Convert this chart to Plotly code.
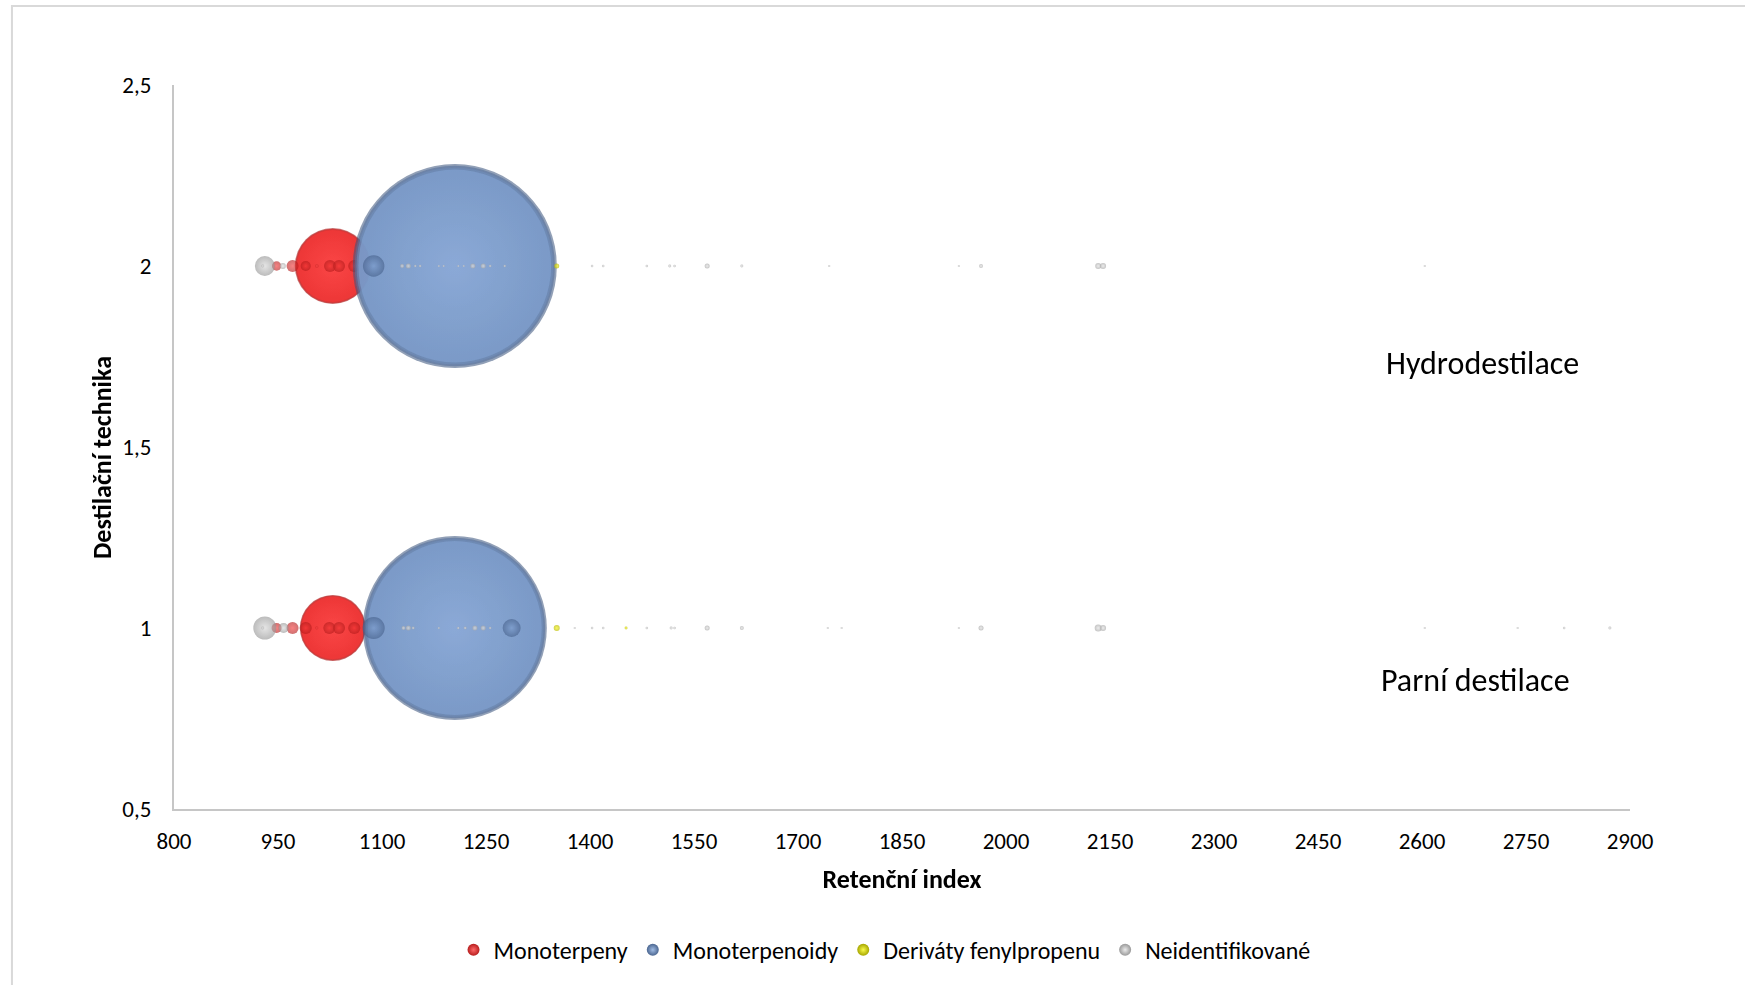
import plotly.graph_objects as go

# ---- data: retention index (x), technique (y: 1 = steam, 2 = hydro), relative amount (bubble area)
mono_x = [948, 971, 990, 1006, 1029, 1025, 1038, 1060,
          948, 971, 990, 1006, 1029, 1024, 1038, 1060]
mono_y = [2, 2, 2, 2, 2, 2, 2, 2,
          1, 1, 1, 1, 1, 1, 1, 1]
mono_s = [0.14, 0.23, 0.16, 0.02, 9.16, 0.23, 0.23, 0.23,
          0.16, 0.23, 0.23, 0.014, 6.9, 0.23, 0.23, 0.23]

terpenoid_x = [1088, 1205,
               1088, 1205, 1287]
terpenoid_y = [2, 2,
               1, 1, 1]
terpenoid_s = [0.73, 66.0,
               0.77, 53.7, 0.51]

phenyl_x = [1352,
            1352, 1452]
phenyl_y = [2,
            1, 1]
phenyl_s = [0.04,
            0.057, 0.014]

unknown_x = [931, 928, 957, 1129, 1138, 1148, 1155, 1182, 1189, 1210, 1218, 1231, 1246,
             1256, 1277, 1403, 1419, 1482, 1515, 1522, 1569, 1619, 1745, 1932, 1964,
             2133, 2140, 2604,
             931, 928, 958, 1131, 1138, 1145, 1182, 1210, 1220, 1234, 1246, 1256, 1378,
             1403, 1419, 1482, 1517, 1522, 1569, 1619, 1743, 1763, 1932, 1964, 2133,
             2140, 2604, 2738, 2805, 2871]
unknown_y = [2] * 28 + [1] * 30
unknown_s = [0.63, 0.014, 0.057, 0.025, 0.04, 0.01, 0.01, 0.008, 0.008, 0.008, 0.008, 0.04, 0.04,
             0.01, 0.01, 0.01, 0.01, 0.01, 0.014, 0.01, 0.04, 0.014, 0.008, 0.008, 0.025,
             0.057, 0.057, 0.008,
             0.84, 0.014, 0.16, 0.025, 0.04, 0.014, 0.008, 0.01, 0.014, 0.04, 0.04, 0.01, 0.008,
             0.01, 0.01, 0.01, 0.014, 0.01, 0.04, 0.025, 0.008, 0.008, 0.008, 0.04, 0.08,
             0.057, 0.008, 0.008, 0.01, 0.014]

series_names = ["Monoterpeny", "Monoterpenoidy", "Deriváty fenylpropenu", "Neidentifikované"]

x_ticks = [800, 950, 1100, 1250, 1400, 1550, 1700, 1850, 2000, 2150, 2300, 2450, 2600, 2750, 2900]
x_ticktext = [str(v) for v in x_ticks]
y_ticks = [0.5, 1, 1.5, 2, 2.5]
y_ticktext = ["0,5", "1", "1,5", "2", "2,5"]

labels = ["Hydrodestilace", "Parní destilace"]
label_x = [2687, 2677]
label_y = [1.732, 0.856]

# ---- styling
FONT = "Carlito, Calibri, Lato, sans-serif"
palette = {
    "Monoterpeny": dict(base=(252, 58, 58), light=(255, 150, 150), dark=(160, 20, 20)),
    "Monoterpenoidy": dict(base=(134, 166, 214), light=(185, 210, 242), dark=(55, 80, 120)),
    "Deriváty fenylpropenu": dict(base=(245, 245, 0), light=(255, 255, 150), dark=(140, 140, 0)),
    "Neidentifikované": dict(base=(222, 222, 222), light=(248, 248, 248), dark=(130, 130, 130)),
}


def mix(c1, c2, t):
    return "rgb(%d,%d,%d)" % tuple(round(a + (b - a) * t) for a, b in zip(c1, c2))


R_MAX = 102  # radius in px of the largest bubble
all_sizes = mono_s + terpenoid_s + phenyl_s + unknown_s
SIZEREF = max(all_sizes) / (2 * R_MAX ** 2)

fig = go.Figure()


def bubble_trace(xs, ys, ss, factor, center, edge, opacity, sizemin):
    return go.Scatter(
        x=xs, y=ys, mode="markers", showlegend=False, hoverinfo="skip", opacity=opacity,
        marker=dict(size=ss, sizemode="area", sizeref=SIZEREF / factor ** 2, sizemin=sizemin,
                    color=edge, line=dict(width=0),
                    gradient=dict(type="radial", color=center)),
    )


def add_series(name, xs, ys, ss):
    pal = palette[name]
    b, l, d = pal["base"], pal["light"], pal["dark"]
    pts = list(zip(xs, ys, ss))
    big = [p for p in pts if p[2] >= 2]
    mid = [p for p in pts if 0.1 <= p[2] < 2]
    tiny = [p for p in pts if p[2] < 0.1]
    if big:
        gx, gy, gs = zip(*big)
        # bevelled rim: dark outer edge stepping in to a flat body colour
        rim = [
            (1.00, mix(b, d, 0.55), mix(b, d, 0.95), 0.8),
            (0.982, mix(b, d, 0.3), mix(b, d, 0.6), 0.9),
            (0.964, mix(b, l, 0.1), mix(b, d, 0.3), 0.9),
            (0.945, mix(b, l, 0.12), mix(b, d, 0.04), 0.9),
        ]
        for f, c, e, op in rim:
            fig.add_trace(bubble_trace(list(gx), list(gy), list(gs), f, c, e, op, 0.8))
    if mid:
        gx, gy, gs = zip(*mid)
        fig.add_trace(bubble_trace(list(gx), list(gy), list(gs), 1.0,
                                   mix(b, d, 0.1), mix(b, d, 0.8), 0.9, 0.8))
    if tiny:
        gx, gy, gs = zip(*tiny)
        fig.add_trace(bubble_trace(list(gx), list(gy), list(gs), 1.0,
                                   mix(b, l, 0.2), mix(b, d, 0.55), 1.0, 1.0))


add_series(series_names[0], mono_x, mono_y, mono_s)
add_series(series_names[1], terpenoid_x, terpenoid_y, terpenoid_s)
add_series(series_names[2], phenyl_x, phenyl_y, phenyl_s)
add_series(series_names[3], unknown_x, unknown_y, unknown_s)

# legend entries
for name in series_names:
    pal = palette[name]
    fig.add_trace(go.Scatter(
        x=[None], y=[None], mode="markers", name=name,
        marker=dict(size=13, color=mix(pal["base"], pal["dark"], 0.75), line=dict(width=0),
                    gradient=dict(type="radial", color=mix(pal["base"], pal["light"], 0.5))),
    ))

for txt, lx, ly in zip(labels, label_x, label_y):
    fig.add_annotation(x=lx, y=ly, text=txt, showarrow=False, xanchor="center", yanchor="middle",
                       font=dict(family=FONT, size=32, color="#000000"))

# vertical axis title, placed slightly below the plot-area centre
fig.add_annotation(xref="paper", yref="paper", x=-0.0495, y=0.486, text="<b>Destilační technika</b>",
                   textangle=-90, showarrow=False, xanchor="center", yanchor="middle",
                   font=dict(family=FONT, size=26, color="#000000"))

# outer chart frame
fig.add_shape(type="rect", xref="paper", yref="paper", x0=-0.1113, x1=1.2, y0=-0.3, y1=1.1091,
              line=dict(color="#d9d9d9", width=2), layer="below")

axis_common = dict(showgrid=False, zeroline=False, showline=True, linecolor="#c6c6c6", linewidth=2,
                   ticks="", tickfont=dict(family=FONT, size=23, color="#000000"))

fig.update_layout(
    width=1745, height=985,
    margin=dict(l=174, r=115, t=85, b=176),
    paper_bgcolor="white", plot_bgcolor="white",
    font=dict(family=FONT, color="#000000"),
    xaxis=dict(range=[800, 2900], tickvals=x_ticks, ticktext=x_ticktext,
               ticklabelstandoff=10,
               title=dict(text="<b>Retenční index</b>", font=dict(family=FONT, size=26), standoff=16),
               **axis_common),
    yaxis=dict(range=[0.5, 2.5], tickvals=y_ticks, ticktext=y_ticktext,
               ticklabelstandoff=16, **axis_common),
    legend=dict(orientation="h", x=0.488, xanchor="center", y=-0.195, yanchor="middle",
                font=dict(family=FONT, size=24), itemsizing="constant"),
    showlegend=True,
)

fig.write_html("out.html")
